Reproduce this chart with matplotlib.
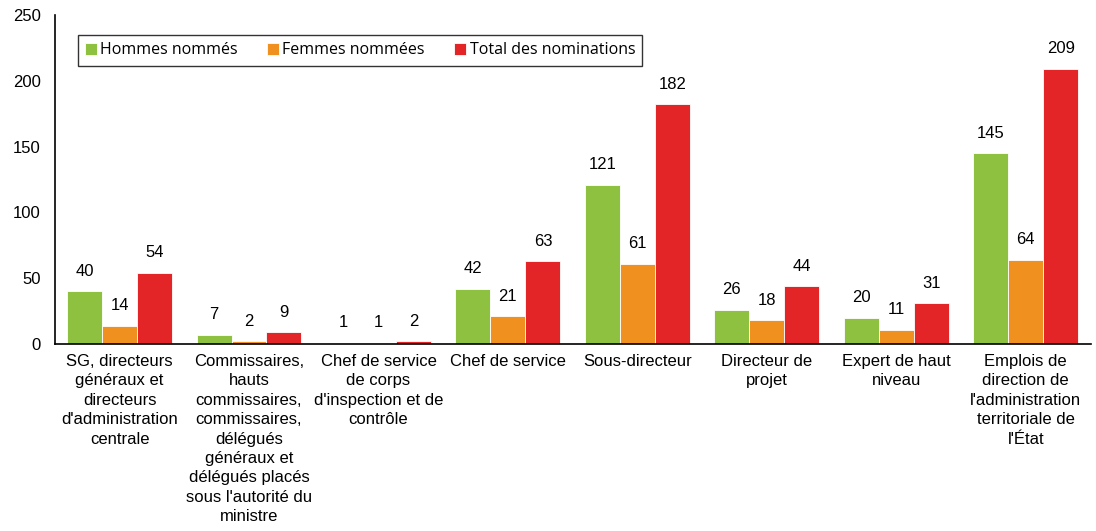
import matplotlib.pyplot as plt
import numpy as np

categories = [
    "SG, directeurs\ngénéraux et\ndirecteurs\nd'administration\ncentrale",
    "Commissaires,\nhauts\ncommissaires,\ncommissaires,\ndélégués\ngénéraux et\ndélégués placés\nsous l'autorité du\nministre",
    "Chef de service\nde corps\nd'inspection et de\ncontrôle",
    "Chef de service",
    "Sous-directeur",
    "Directeur de\nprojet",
    "Expert de haut\nniveau",
    "Emplois de\ndirection de\nl'administration\nterritoriale de\nl'État",
]
hommes = [40, 7, 1, 42, 121, 26, 20, 145]
femmes = [14, 2, 1, 21, 61, 18, 11, 64]
total = [54, 9, 2, 63, 182, 44, 31, 209]

series = [
    ("Hommes nommés", hommes, "#8DC13F"),
    ("Femmes nommées", femmes, "#F0901F"),
    ("Total des nominations", total, "#E42528"),
]

plt.rcParams['font.family'] = ['Liberation Sans', 'DejaVu Sans']

fig = plt.figure(figsize=(10.96, 5.31), dpi=100)
ax = fig.add_axes([0.050, 0.352, 0.945, 0.620])

x = np.arange(len(categories))
w = 0.27
for i, (name, vals, col) in enumerate(series):
    pos = x + (i - 1) * w
    bars = ax.bar(pos, vals, w, color=col, edgecolor="white", linewidth=0.6, label=name)
    for b, v in zip(bars, vals):
        ax.annotate(str(v), (b.get_x() + b.get_width() / 2, v),
                    xytext=(0, 9), textcoords="offset points",
                    ha="center", va="bottom", fontsize=12)

ax.set_xlim(-0.5, len(categories) - 0.5)
ax.set_ylim(0, 250)
ax.set_yticks(range(0, 251, 50))
ax.set_xticks(x)
ax.set_xticklabels(categories, fontsize=12, linespacing=1.37, va="top")
ax.tick_params(axis="x", length=0, pad=7)
ax.tick_params(axis="y", length=0, pad=10, labelsize=12)

for s in ["top", "right"]:
    ax.spines[s].set_visible(False)
ax.spines["left"].set_linewidth(1.2)
ax.spines["bottom"].set_linewidth(1.2)

leg = ax.legend(loc="upper left", bbox_to_anchor=(0.022, 0.938), ncol=3,
                frameon=True, fancybox=False, edgecolor="black",
                handlelength=0.75, handleheight=0.75,
                handletextpad=0.2, columnspacing=1.85, borderpad=0.45,
                borderaxespad=0.0,
                prop={"family": ["Open Sans", "DejaVu Sans"], "size": 11.5})
leg.get_frame().set_linewidth(1.0)

fig.savefig("out.png", dpi=100)
